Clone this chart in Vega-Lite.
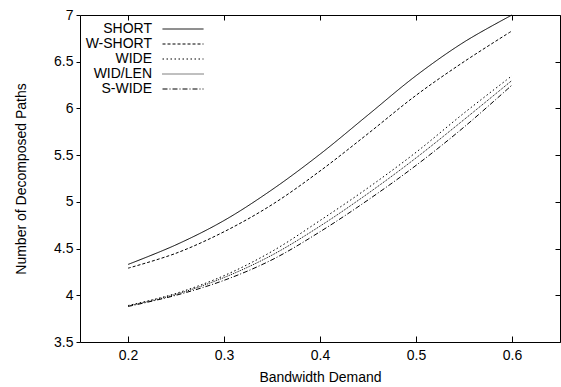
{
  "$schema": "https://vega.github.io/schema/vega-lite/v6.json",
  "width": 480,
  "height": 327,
  "autosize": {"type": "none"},
  "padding": {"left": 80, "top": 15, "right": 1, "bottom": 45},
  "background": "white",
  "config": {
    "view": {"stroke": "black", "strokeWidth": 1},
    "font": "Liberation Sans",
    "axis": {"labelColor": "black", "titleColor": "black", "tickColor": "black", "labelFontSize": 14, "titleFontSize": 14, "titleFontWeight": "normal", "labelFont": "Liberation Sans", "titleFont": "Liberation Sans", "grid": false, "domain": false}
  },
  "data": {
    "values": [
      {"bw": 0.2, "paths": 4.33, "method": "SHORT"},
      {"bw": 0.25, "paths": 4.54, "method": "SHORT"},
      {"bw": 0.3, "paths": 4.80, "method": "SHORT"},
      {"bw": 0.35, "paths": 5.13, "method": "SHORT"},
      {"bw": 0.4, "paths": 5.51, "method": "SHORT"},
      {"bw": 0.45, "paths": 5.93, "method": "SHORT"},
      {"bw": 0.5, "paths": 6.35, "method": "SHORT"},
      {"bw": 0.55, "paths": 6.71, "method": "SHORT"},
      {"bw": 0.6, "paths": 7.00, "method": "SHORT"},
      {"bw": 0.2, "paths": 4.29, "method": "W-SHORT"},
      {"bw": 0.25, "paths": 4.45, "method": "W-SHORT"},
      {"bw": 0.3, "paths": 4.68, "method": "W-SHORT"},
      {"bw": 0.35, "paths": 4.97, "method": "W-SHORT"},
      {"bw": 0.4, "paths": 5.33, "method": "W-SHORT"},
      {"bw": 0.45, "paths": 5.73, "method": "W-SHORT"},
      {"bw": 0.5, "paths": 6.14, "method": "W-SHORT"},
      {"bw": 0.55, "paths": 6.50, "method": "W-SHORT"},
      {"bw": 0.6, "paths": 6.83, "method": "W-SHORT"},
      {"bw": 0.2, "paths": 3.89, "method": "WIDE"},
      {"bw": 0.25, "paths": 4.02, "method": "WIDE"},
      {"bw": 0.3, "paths": 4.21, "method": "WIDE"},
      {"bw": 0.35, "paths": 4.47, "method": "WIDE"},
      {"bw": 0.4, "paths": 4.80, "method": "WIDE"},
      {"bw": 0.45, "paths": 5.15, "method": "WIDE"},
      {"bw": 0.5, "paths": 5.53, "method": "WIDE"},
      {"bw": 0.55, "paths": 5.95, "method": "WIDE"},
      {"bw": 0.6, "paths": 6.35, "method": "WIDE"},
      {"bw": 0.2, "paths": 3.885, "method": "WID/LEN"},
      {"bw": 0.25, "paths": 4.01, "method": "WID/LEN"},
      {"bw": 0.3, "paths": 4.19, "method": "WID/LEN"},
      {"bw": 0.35, "paths": 4.43, "method": "WID/LEN"},
      {"bw": 0.4, "paths": 4.74, "method": "WID/LEN"},
      {"bw": 0.45, "paths": 5.09, "method": "WID/LEN"},
      {"bw": 0.5, "paths": 5.47, "method": "WID/LEN"},
      {"bw": 0.55, "paths": 5.88, "method": "WID/LEN"},
      {"bw": 0.6, "paths": 6.30, "method": "WID/LEN"},
      {"bw": 0.2, "paths": 3.88, "method": "S-WIDE"},
      {"bw": 0.25, "paths": 4.00, "method": "S-WIDE"},
      {"bw": 0.3, "paths": 4.16, "method": "S-WIDE"},
      {"bw": 0.35, "paths": 4.38, "method": "S-WIDE"},
      {"bw": 0.4, "paths": 4.68, "method": "S-WIDE"},
      {"bw": 0.45, "paths": 5.02, "method": "S-WIDE"},
      {"bw": 0.5, "paths": 5.39, "method": "S-WIDE"},
      {"bw": 0.55, "paths": 5.80, "method": "S-WIDE"},
      {"bw": 0.6, "paths": 6.25, "method": "S-WIDE"}
    ]
  },
  "layer": [
    {
      "mark": {"type": "line", "interpolate": "catmull-rom", "strokeWidth": 1, "color": "black"},
      "encoding": {
        "x": {
          "field": "bw", "type": "quantitative",
          "scale": {"domain": [0.15, 0.65], "nice": false, "zero": false},
          "axis": {"orient": "bottom", "values": [0.2, 0.3, 0.4, 0.5, 0.6], "format": ".1f", "title": "Bandwidth Demand", "tickSize": -6, "labelPadding": 12, "titlePadding": 8}
        },
        "y": {
          "field": "paths", "type": "quantitative",
          "scale": {"domain": [3.5, 7], "nice": false, "zero": false},
          "axis": {"orient": "left", "values": [3.5, 4, 4.5, 5, 5.5, 6, 6.5, 7], "format": "~g", "title": "Number of Decomposed Paths", "tickSize": 4, "labelPadding": 3, "titlePadding": 25}
        },
        "strokeDash": {
          "field": "method", "type": "nominal",
          "scale": {
            "domain": ["SHORT", "W-SHORT", "WIDE", "WID/LEN", "S-WIDE"],
            "range": [[1, 0], [3, 2], [1.5, 2.5], [1, 1], [5, 2, 1, 2]]
          },
          "legend": {
            "orient": "none", "legendX": 96, "legendY": 7, "title": null, "padding": 0,
            "symbolType": "M-4.1,0H4.1", "symbolSize": 100, "symbolStrokeWidth": 1, "symbolStrokeColor": "black", "symbolFillColor": "transparent",
            "labelAlign": "right", "labelOffset": -38, "labelFontSize": 14, "labelColor": "black", "labelFont": "Liberation Sans",
            "rowPadding": 1
          }
        }
      }
    },
    {
      "mark": {"type": "line", "opacity": 0},
      "encoding": {
        "x": {"field": "bw", "type": "quantitative", "axis": {"orient": "top", "values": [0.2, 0.3, 0.4, 0.5, 0.6], "labels": false, "title": null, "tickSize": -5}},
        "y": {"field": "paths", "type": "quantitative", "axis": {"orient": "right", "values": [3.5, 4, 4.5, 5, 5.5, 6, 6.5, 7], "labels": false, "title": null, "tickSize": -5}},
        "detail": {"field": "method", "type": "nominal"}
      }
    }
  ],
  "resolve": {"axis": {"x": "independent", "y": "independent"}}
}
